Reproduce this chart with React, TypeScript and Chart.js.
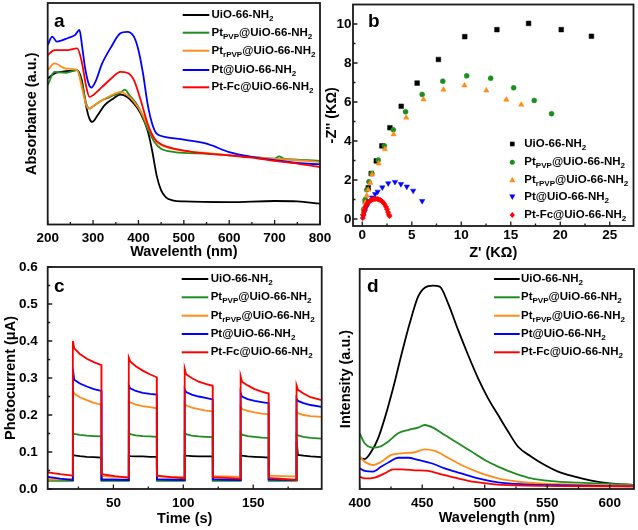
import React, { useEffect, useRef } from 'react';
import { Chart, registerables } from 'chart.js';

Chart.register(...registerables);

const FONT = '"Liberation Sans", Arial, Helvetica, sans-serif';
Chart.defaults.font.family = FONT;
Chart.defaults.color = '#000';

const SERIES_LABELS = [
  'UiO-66-NH_{2}',
  'Pt_{PVP}@UiO-66-NH_{2}',
  'Pt_{rPVP}@UiO-66-NH_{2}',
  'Pt@UiO-66-NH_{2}',
  'Pt-Fc@UiO-66-NH_{2}',
];
const SERIES_COLORS = ['#000000', '#1f8c1f', '#ff8c1a', '#0000ff', '#ff0000'];

// ---------- (a) UV-vis absorbance ----------
const absTickLabels = [200, 300, 400, 500, 600, 700, 800];
const absUiO: [number, number][] = [
  [200, 0.659], [215, 0.682], [230, 0.689], [250, 0.694], [265, 0.697], [275, 0.652], [285, 0.531],
  [292, 0.478], [298, 0.463], [310, 0.493], [325, 0.538], [345, 0.569], [360, 0.587], [375, 0.576],
  [390, 0.546], [405, 0.501], [420, 0.425], [430, 0.335], [440, 0.222], [450, 0.154], [460, 0.124],
  [475, 0.109], [500, 0.104], [600, 0.101], [700, 0.106], [750, 0.104], [800, 0.094],
];
const absPtPVP: [number, number][] = [
  [200, 0.629], [215, 0.689], [240, 0.685], [265, 0.697], [275, 0.637], [285, 0.546], [292, 0.523],
  [300, 0.534], [320, 0.561], [330, 0.569], [345, 0.584], [360, 0.594], [370, 0.609], [380, 0.584],
  [400, 0.531], [420, 0.433], [435, 0.373], [450, 0.342], [480, 0.327], [500, 0.323], [550, 0.32],
  [600, 0.312], [650, 0.305], [700, 0.297], [710, 0.308], [720, 0.297], [750, 0.293], [800, 0.287],
];
const absPtrPVP: [number, number][] = [
  [200, 0.697], [215, 0.727], [240, 0.704], [265, 0.697], [275, 0.621], [285, 0.538], [292, 0.523],
  [300, 0.534], [320, 0.561], [345, 0.588], [360, 0.599], [375, 0.584], [390, 0.554], [410, 0.493],
  [425, 0.425], [440, 0.373], [460, 0.35], [500, 0.332], [550, 0.323], [600, 0.312], [650, 0.305],
  [700, 0.297], [750, 0.29], [800, 0.282],
];
const absPt: [number, number][] = [
  [200, 0.81], [210, 0.848], [220, 0.826], [245, 0.842], [260, 0.855], [270, 0.878], [276, 0.802],
  [282, 0.712], [290, 0.637], [296, 0.618], [305, 0.644], [320, 0.727], [340, 0.802], [360, 0.863],
  [375, 0.87], [390, 0.848], [400, 0.787], [410, 0.682], [420, 0.546], [430, 0.456], [440, 0.41],
  [460, 0.395], [500, 0.383], [550, 0.365], [600, 0.327], [650, 0.305], [700, 0.29], [750, 0.278],
  [800, 0.271],
];
const absPtFc: [number, number][] = [
  [200, 0.765], [215, 0.787], [240, 0.787], [265, 0.795], [275, 0.735], [285, 0.621], [292, 0.576],
  [300, 0.584], [320, 0.621], [340, 0.659], [360, 0.689], [375, 0.685], [390, 0.652], [405, 0.561],
  [420, 0.456], [435, 0.388], [450, 0.362], [480, 0.342], [520, 0.327], [600, 0.312], [650, 0.302],
  [700, 0.287], [750, 0.275], [800, 0.259],
];

// ---------- (b) Nyquist plots ----------
const eisXTicks = [0, 5, 10, 15, 20, 25];
const eisYTicks = [0, 2, 4, 6, 8, 10];
const eisUiO: [number, number][] = [
  [0.3, 0.9], [0.6, 1.6], [0.9, 2.33], [1.41, 2.98], [1.98, 3.75], [2.79, 4.68], [3.93, 5.78],
  [5.54, 6.97], [7.69, 8.18], [10.35, 9.35], [13.6, 9.71], [16.8, 10.03], [20.1, 9.71], [23.15, 9.37],
];
const eisPtPVP: [number, number][] = [
  [0.15, 0.5], [0.3, 1.0], [0.45, 1.5], [0.67, 1.91], [0.97, 2.33], [1.61, 3.02], [2.22, 3.75],
  [3.13, 4.58], [4.37, 5.5], [6.05, 6.39], [8.13, 7.07], [10.55, 7.34], [12.97, 7.22], [15.29, 6.73],
  [17.37, 6.08], [19.12, 5.4],
];
const eisPtrPVP: [number, number][] = [
  [0.1, 0.3], [0.2, 0.55], [0.3, 0.85], [0.45, 1.2], [0.6, 1.5], [0.8, 1.85], [1.0, 2.28], [1.65, 2.85],
  [2.28, 3.58], [3.16, 4.34], [4.44, 5.2], [6.18, 6.13], [8.2, 6.63], [10.32, 6.85], [12.53, 6.59],
  [14.55, 6.12], [16.06, 5.86],
];
const eisPt: [number, number][] = [
  [0.1, 0.15], [0.25, 0.4], [0.45, 0.65], [0.7, 0.9], [1.0, 1.1], [1.3, 1.28], [1.55, 1.4], [2.02, 1.62],
  [2.62, 1.83], [3.3, 1.9], [3.9, 1.79], [4.5, 1.66], [5.14, 1.45], [6.05, 0.92],
];
const eisPtFc: [number, number][] = [
  [0.05, 0.05], [0.1, 0.2], [0.15, 0.35], [0.2, 0.45], [0.3, 0.6], [0.4, 0.7], [0.5, 0.78], [0.6, 0.85],
  [0.75, 0.92], [0.9, 0.97], [1.05, 1.0], [1.2, 1.02], [1.35, 1.03], [1.5, 1.03], [1.65, 1.0],
  [1.8, 0.97], [1.95, 0.92], [2.1, 0.85], [2.25, 0.75], [2.4, 0.62], [2.5, 0.5], [2.6, 0.35],
  [2.68, 0.22], [2.75, 0.15],
];

// ---------- (c) Transient photocurrent ----------
const pcTickLabels = [50, 100, 150];
const pcYTicks = [0, 0.1, 0.2, 0.3, 0.4, 0.5, 0.6];
const pcTime = [
  3, 12, 20.9,
  21, 22, 26, 31, 36, 41.4,
  41.5, 51, 60.9,
  61, 62, 66, 71, 76, 81,
  81.1, 91, 100.9,
  101, 102, 106, 111, 116, 121,
  121.1, 131, 140.9,
  141, 142, 146, 151, 156, 161,
  161.1, 171, 180.9,
  181, 182, 186, 191, 199,
];
const pcUiO = [
  0.025, 0.025, 0.025,
  0.093, 0.091, 0.089, 0.087, 0.086, 0.085,
  0.025, 0.025, 0.025,
  0.09, 0.089, 0.088, 0.088, 0.087, 0.087,
  0.025, 0.025, 0.025,
  0.091, 0.09, 0.089, 0.088, 0.088, 0.088,
  0.025, 0.025, 0.025,
  0.093, 0.09, 0.088, 0.087, 0.086, 0.085,
  0.025, 0.025, 0.025,
  0.13, 0.092, 0.09, 0.088, 0.086,
];
const pcPtPVP = [
  0.022, 0.022, 0.022,
  0.152, 0.149, 0.146, 0.144, 0.143, 0.142,
  0.022, 0.022, 0.022,
  0.152, 0.148, 0.145, 0.143, 0.142, 0.141,
  0.022, 0.022, 0.022,
  0.152, 0.148, 0.144, 0.142, 0.141, 0.14,
  0.022, 0.022, 0.022,
  0.151, 0.147, 0.143, 0.141, 0.139, 0.138,
  0.022, 0.022, 0.022,
  0.148, 0.145, 0.141, 0.138, 0.136,
];
const pcPtrPVP = [
  0.025, 0.026, 0.027,
  0.265, 0.258, 0.248, 0.24, 0.233, 0.228,
  0.035, 0.033, 0.032,
  0.238, 0.234, 0.228, 0.224, 0.221, 0.218,
  0.034, 0.033, 0.032,
  0.232, 0.226, 0.22, 0.216, 0.212, 0.21,
  0.035, 0.034, 0.033,
  0.222, 0.216, 0.211, 0.207, 0.204, 0.202,
  0.036, 0.035, 0.034,
  0.21, 0.205, 0.2, 0.197, 0.195,
];
const pcPt = [
  0.033, 0.028, 0.024,
  0.325, 0.295, 0.285, 0.277, 0.27, 0.265,
  0.025, 0.025, 0.024,
  0.28, 0.272, 0.265, 0.26, 0.257, 0.255,
  0.026, 0.025, 0.024,
  0.27, 0.262, 0.255, 0.25, 0.246, 0.242,
  0.026, 0.025, 0.024,
  0.26, 0.25, 0.243, 0.238, 0.235, 0.232,
  0.026, 0.025, 0.024,
  0.245, 0.238, 0.232, 0.227, 0.222,
];
const pcPtFc = [
  0.045, 0.04, 0.036,
  0.4, 0.38, 0.365, 0.352, 0.343, 0.335,
  0.04, 0.035, 0.031,
  0.355, 0.345, 0.332, 0.32, 0.31, 0.302,
  0.036, 0.032, 0.029,
  0.325, 0.31, 0.3, 0.29, 0.284, 0.279,
  0.032, 0.03, 0.028,
  0.305, 0.29, 0.28, 0.27, 0.263, 0.258,
  0.03, 0.027, 0.024,
  0.28, 0.268, 0.258, 0.248, 0.24,
];

// ---------- (d) PL spectra ----------
const plTickLabels = [400, 450, 500, 550, 600];
const plUiO: [number, number][] = [
  [400.8, 0.139], [404, 0.136], [409.3, 0.17], [414.7, 0.23], [420, 0.321], [426.7, 0.458],
  [433.3, 0.609], [440, 0.753], [446.7, 0.874], [452, 0.915], [458.7, 0.924], [464, 0.92],
  [470.7, 0.844], [478.7, 0.723], [486.7, 0.609], [494.7, 0.503], [502.7, 0.412], [510.7, 0.336],
  [518.7, 0.261], [526.7, 0.192], [537.3, 0.147], [548, 0.109], [558.7, 0.079], [572, 0.056],
  [585.3, 0.038], [600, 0.026], [619.5, 0.018],
];
const plPtPVP: [number, number][] = [
  [400, 0.253], [404, 0.208], [410.7, 0.188], [416, 0.192], [422.7, 0.215], [430.7, 0.253],
  [438.7, 0.268], [446.7, 0.279], [452, 0.291], [458.7, 0.279], [468, 0.245], [478.7, 0.208],
  [489.3, 0.17], [500, 0.132], [510.7, 0.102], [524, 0.071], [537.3, 0.048], [553.3, 0.036],
  [574.7, 0.029], [596, 0.024], [619.5, 0.018],
];
const plPtrPVP: [number, number][] = [
  [400, 0.147], [404, 0.124], [410.7, 0.109], [417.3, 0.124], [425.3, 0.155], [433.3, 0.162],
  [444, 0.167], [452, 0.18], [460, 0.173], [470.7, 0.142], [484, 0.102], [497.3, 0.071],
  [510.7, 0.048], [526.7, 0.033], [548, 0.024], [574.7, 0.02], [619.5, 0.015],
];
const plPt: [number, number][] = [
  [400, 0.094], [404, 0.082], [410.7, 0.079], [417.3, 0.102], [424, 0.124], [430.7, 0.142],
  [438.7, 0.142], [446.7, 0.132], [457.3, 0.117], [468, 0.094], [481.3, 0.071], [494.7, 0.048],
  [510.7, 0.03], [532, 0.021], [558.7, 0.017], [619.5, 0.012],
];
const plPtFc: [number, number][] = [
  [400, 0.056], [404, 0.048], [412, 0.052], [420, 0.071], [426.7, 0.089], [433.3, 0.089],
  [444, 0.085], [454.7, 0.082], [465.3, 0.067], [478.7, 0.048], [492, 0.032], [508, 0.021],
  [532, 0.015], [619.5, 0.012],
];

// ---------- helpers ----------
const seq = (a: number, b: number, s: number) => {
  const out: number[] = [];
  for (let v = a; v <= b + 1e-9; v += s) out.push(+v.toFixed(4));
  return out;
};

function drawRich(ctx: CanvasRenderingContext2D, text: string, x: number, y: number, size: number) {
  const parts = text.split(/(_\{[^}]*\})/).filter(Boolean);
  let cx = x;
  ctx.textBaseline = 'middle';
  ctx.textAlign = 'left';
  for (const p of parts) {
    if (p.startsWith('_{')) {
      const t = p.slice(2, -1);
      ctx.font = `bold ${size * 0.7}px ${FONT}`;
      ctx.fillText(t, cx, y + size * 0.32);
      cx += ctx.measureText(t).width;
    } else {
      ctx.font = `bold ${size}px ${FONT}`;
      ctx.fillText(p, cx, y);
      cx += ctx.measureText(p).width;
    }
  }
}

function drawMarker(ctx: CanvasRenderingContext2D, kind: string, x: number, y: number, color: string) {
  ctx.fillStyle = color;
  ctx.beginPath();
  if (kind === 'rect') {
    ctx.rect(x - 2.3, y - 2.3, 4.6, 4.6);
  } else if (kind === 'circle') {
    ctx.arc(x, y, 2.5, 0, Math.PI * 2);
  } else if (kind === 'triangle') {
    ctx.moveTo(x, y - 3.2); ctx.lineTo(x + 3, y + 2.2); ctx.lineTo(x - 3, y + 2.2); ctx.closePath();
  } else if (kind === 'down') {
    ctx.moveTo(x, y + 3.2); ctx.lineTo(x + 3, y - 2.2); ctx.lineTo(x - 3, y - 2.2); ctx.closePath();
  } else {
    ctx.moveTo(x, y - 3); ctx.lineTo(x + 2.6, y); ctx.lineTo(x, y + 3); ctx.lineTo(x - 2.6, y); ctx.closePath();
  }
  ctx.fill();
}

type AxisSpec = {
  min: number; max: number; labels: number[] | null; fmt?: (v: number) => string;
  title: string; titlePad: number; labelPad: number; major: number[]; minor: number[];
};
type Spec = {
  ox: number; oy: number; w: number; h: number;
  area: { l: number; r: number; t: number; b: number };
  type: 'line' | 'scatter';
  x: AxisSpec; y: AxisSpec; datasets: any[];
  letter: string; letterPos: [number, number];
  legend: { kind: 'line' | 'point'; x1: number; x2: number; tx: number; ys: number[]; markers?: string[] };
};

function buildConfig(s: Spec): any {
  const tickFont = { size: 13.5, weight: 'bold' as const };
  const titleFont = { size: 14.5, weight: 'bold' as const };
  const decor = {
    id: 'decor_' + s.letter,
    afterDatasetsDraw(chart: any) {
      const { ctx, chartArea: ca } = chart;
      const xs = chart.scales.x, ys = chart.scales.y;
      ctx.save();
      ctx.strokeStyle = '#1a1a1a';
      ctx.lineWidth = 1.8;
      ctx.strokeRect(ca.left, ca.top, ca.right - ca.left, ca.bottom - ca.top);
      ctx.lineWidth = 1.3;
      ctx.beginPath();
      const xt = (v: number, len: number) => {
        const p = xs.getPixelForValue(v);
        ctx.moveTo(p, ca.bottom); ctx.lineTo(p, ca.bottom - len);
      };
      const yt = (v: number, len: number) => {
        const p = ys.getPixelForValue(v);
        ctx.moveTo(ca.left, p); ctx.lineTo(ca.left + len, p);
      };
      s.x.major.forEach((v) => xt(v, 4.5));
      s.x.minor.forEach((v) => xt(v, 2.5));
      s.y.major.forEach((v) => yt(v, 4.5));
      s.y.minor.forEach((v) => yt(v, 2.5));
      ctx.stroke();
      ctx.restore();
    },
    afterDraw(chart: any) {
      const { ctx } = chart;
      ctx.save();
      ctx.fillStyle = '#000';
      ctx.font = `bold 19px ${FONT}`;
      ctx.textBaseline = 'alphabetic';
      ctx.textAlign = 'left';
      ctx.fillText(s.letter, s.letterPos[0] - s.ox, s.letterPos[1] - s.oy);
      const lg = s.legend;
      lg.ys.forEach((yy, i) => {
        const y = yy - s.oy;
        const col = SERIES_COLORS[i];
        if (lg.kind === 'line') {
          ctx.strokeStyle = col;
          ctx.lineWidth = 2;
          ctx.beginPath();
          ctx.moveTo(lg.x1 - s.ox, y); ctx.lineTo(lg.x2 - s.ox, y);
          ctx.stroke();
        } else {
          drawMarker(ctx, lg.markers![i], lg.x1 - s.ox, y, col);
        }
        ctx.fillStyle = '#000';
        drawRich(ctx, SERIES_LABELS[i], lg.tx - s.ox, y, 11.5);
      });
      ctx.restore();
    },
  };

  const axis = (a: AxisSpec, isX: boolean) => ({
    type: 'linear',
    min: a.min,
    max: a.max,
    grid: { display: false, drawTicks: false, tickLength: 0 },
    border: { display: false },
    ticks: {
      display: a.labels !== null,
      padding: a.labelPad,
      font: tickFont,
      color: '#000',
      maxRotation: 0,
      autoSkip: false,
      callback: (v: number) => (a.fmt ? a.fmt(v) : String(v)),
    },
    afterBuildTicks: (sc: any) => {
      sc.ticks = (a.labels ?? [a.min, a.max]).map((v) => ({ value: v }));
    },
    afterFit: (sc: any) => {
      if (isX) sc.height = s.oy + s.h - s.area.b;
      else sc.width = s.area.l - s.ox;
      sc.paddingLeft = 0; sc.paddingRight = 0; sc.paddingTop = 0; sc.paddingBottom = 0;
    },
    title: {
      display: true,
      text: a.title,
      font: titleFont,
      color: '#000',
      padding: isX ? { top: 0, bottom: a.titlePad } : { top: a.titlePad, bottom: 0 },
    },
  });

  return {
    type: s.type,
    data: { datasets: s.datasets },
    options: {
      responsive: false,
      animation: false,
      events: [],
      layout: {
        padding: {
          left: 0,
          top: s.area.t - s.oy,
          right: s.ox + s.w - s.area.r,
          bottom: 0,
        },
      },
      plugins: { legend: { display: false }, tooltip: { enabled: false } },
      scales: { x: axis(s.x, true), y: axis(s.y, false) },
    },
    plugins: [decor],
  };
}

const lineSet = (data: [number, number][], i: number, tension: number) => ({
  data,
  borderColor: SERIES_COLORS[i],
  backgroundColor: SERIES_COLORS[i],
  borderWidth: 1.8,
  pointRadius: 0,
  tension,
  cubicInterpolationMode: tension > 0 ? 'monotone' : 'default',
  fill: false,
  order: 5 - i,
});

const pairs = (xs: number[], ys: number[]): [number, number][] => xs.map((x, k) => [x, ys[k]]);

const specA: Spec = {
  ox: 0, oy: 0, w: 336, h: 266,
  area: { l: 47.7, r: 320, t: 3, b: 224.5 },
  type: 'line',
  x: { min: 200, max: 800, labels: absTickLabels, title: 'Wavelenth (nm)', titlePad: 5.3, labelPad: 5.4,
       major: seq(200, 800, 100), minor: seq(250, 750, 100) },
  y: { min: 0, max: 1, labels: null, title: 'Absorbance (a.u.)', titlePad: 23.3, labelPad: 0, major: [], minor: [] },
  datasets: [absUiO, absPtPVP, absPtrPVP, absPt, absPtFc].map((d, i) => lineSet(d, i, 0.3)),
  letter: 'a', letterPos: [54, 27.3],
  legend: { kind: 'line', x1: 182.7, x2: 209.3, tx: 211.5, ys: [15, 32.7, 50.7, 70, 87.3] },
};

const specB: Spec = {
  ox: 318, oy: 0, w: 320, h: 266,
  area: { l: 353, r: 634, t: 4, b: 226 },
  type: 'scatter',
  x: { min: -0.94, max: 27.4, labels: eisXTicks, title: "Z' (KΩ)", titlePad: 4.8, labelPad: 1,
       major: seq(0, 25, 5), minor: seq(2.5, 22.5, 5) },
  y: { min: -0.36, max: 11, labels: eisYTicks, title: "-Z'' (KΩ)", titlePad: 5.3, labelPad: 1.5,
       major: seq(0, 10, 2), minor: seq(1, 9, 2) },
  datasets: [eisUiO, eisPtPVP, eisPtrPVP, eisPt, eisPtFc].map((d, i) => ({
    data: d,
    pointStyle: ['rect', 'circle', 'triangle', 'triangle', 'rectRot'][i],
    rotation: i === 3 ? 180 : 0,
    pointRadius: [3.3, 2.5, 3.1, 3.1, 2.7][i],
    backgroundColor: SERIES_COLORS[i],
    borderColor: SERIES_COLORS[i],
    borderWidth: 0.5,
    showLine: false,
    order: 5 - i,
  })),
  letter: 'b', letterPos: [368, 27],
  legend: { kind: 'point', x1: 512.3, x2: 512.3, tx: 524.3, ys: [144, 162.3, 180, 196.7, 215],
            markers: ['rect', 'circle', 'triangle', 'down', 'diamond'] },
};

const specC: Spec = {
  ox: 0, oy: 256, w: 336, h: 274,
  area: { l: 47.7, r: 321.7, t: 267, b: 489 },
  type: 'line',
  x: { min: 3, max: 199, labels: pcTickLabels, title: 'Time (s)', titlePad: 2.3, labelPad: 5.9,
       major: [50, 100, 150], minor: [25, 75, 125, 175] },
  y: { min: 0, max: 0.6, labels: pcYTicks, fmt: (v) => v.toFixed(1), title: 'Photocurrent (μA)', titlePad: 2.3,
       labelPad: 10, major: seq(0, 0.6, 0.1), minor: seq(0.05, 0.55, 0.1) },
  datasets: [pcUiO, pcPtPVP, pcPtrPVP, pcPt, pcPtFc].map((d, i) => lineSet(pairs(pcTime, d), i, 0)),
  letter: 'c', letterPos: [54, 292],
  legend: { kind: 'line', x1: 181.7, x2: 208.3, tx: 210.7, ys: [279, 297.3, 315.7, 334, 352.3] },
};

const specD: Spec = {
  ox: 318, oy: 256, w: 320, h: 274,
  area: { l: 359.7, r: 634, t: 269, b: 489 },
  type: 'line',
  x: { min: 400, max: 619.4, labels: plTickLabels, title: 'Wavelength (nm)', titlePad: 3.8, labelPad: 5.9,
       major: seq(400, 600, 50), minor: seq(425, 575, 50) },
  y: { min: 0, max: 1, labels: null, title: 'Intensity (a.u.)', titlePad: 18.8, labelPad: 0, major: [], minor: [] },
  datasets: [plUiO, plPtPVP, plPtrPVP, plPt, plPtFc].map((d, i) => lineSet(d, i, 0.3)),
  letter: 'd', letterPos: [367, 292],
  legend: { kind: 'line', x1: 494, x2: 519.7, tx: 521, ys: [279, 297.3, 315.7, 334, 352.3] },
};

function Panel({ spec }: { spec: Spec }) {
  const ref = useRef<HTMLCanvasElement>(null);
  useEffect(() => {
    const chart = new Chart(ref.current as HTMLCanvasElement, buildConfig(spec));
    return () => chart.destroy();
  }, [spec]);
  return (
    <canvas
      ref={ref}
      width={spec.w}
      height={spec.h}
      style={{ position: 'absolute', left: spec.ox, top: spec.oy, width: spec.w, height: spec.h }}
    />
  );
}

export default function App() {
  return (
    <div style={{ position: 'absolute', left: 0, top: 0, width: 638, height: 530, background: '#fff', overflow: 'hidden' }}>
      <Panel spec={specA} />
      <Panel spec={specB} />
      <Panel spec={specC} />
      <Panel spec={specD} />
    </div>
  );
}
